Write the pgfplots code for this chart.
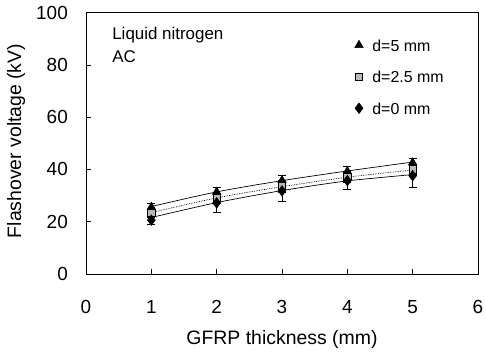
\documentclass[border=0pt]{standalone}
\usepackage{fontspec}
\setmainfont{Liberation Sans}
\usepackage{pgfplots}
\pgfplotsset{compat=1.18}
\newcommand\tickfont{\fontsize{19}{21}\selectfont}
\begin{document}
\begin{tikzpicture}
\begin{axis}[
  at={(0,0)}, anchor=south west,
  scale only axis, width=392bp, height=261.5bp,
  xmin=0, xmax=6, ymin=0, ymax=100,
  xtick={0,1,2,3,4,5,6}, ytick={0,20,40,60,80,100},
  xticklabels={0,1,2,3,4,5,6},
  yticklabels={0,20,40,60,80,100},
  tick align=inside, tick pos=left,
  major tick length=5bp,
  axis line style={line width=0.9pt},
  tick style={line width=0.6pt, black},
  every tick label/.append style={font=\tickfont},
  every y tick label/.append style={inner sep=0pt, anchor=east, xshift=-18bp},
  every x tick label/.append style={inner sep=0pt, anchor=north, yshift=-26bp},
  xlabel={GFRP thickness (mm)},
  ylabel={Flashover voltage (kV)},
  label style={font=\fontsize{19.5}{21}\selectfont},
  xlabel style={at={(axis description cs:0.5,-0.252)}, anchor=center},
  ylabel style={at={(axis description cs:-0.1786,0.5086)}, anchor=center},
  legend style={at={(axis cs:4.11,89.7)}, anchor=north west, draw=none, fill=none,
    font=\fontsize{16}{18}\selectfont, row sep=18.5bp, inner sep=0pt,
    nodes={inner sep=0pt},
    /tikz/every odd column/.append style={column sep=9bp}},
  legend cell align=left,
  legend image code/.code={\draw[#1] plot coordinates {(0cm,1bp)};},
]
% trend curves
\addplot[black, line width=0.7pt, smooth, forget plot] coordinates {(1,25.8)(2,31.4)(3,35.7)(4,39.4)(5,42.8)};
\addplot[black, line width=0.7pt, densely dotted, smooth, forget plot] coordinates {(1,23.5)(2,29.1)(3,33.4)(4,37.0)(5,39.8)};
\addplot[black, line width=0.7pt, smooth, forget plot] coordinates {(1,21.6)(2,27.3)(3,31.9)(4,35.6)(5,38.0)};
% points with error bars
\addplot[only marks, mark=triangle*, mark size=5pt, black,
  error bars/.cd, y dir=both, y explicit, error bar style={line width=0.7pt}, error mark options={rotate=90, mark size=4pt, line width=0.7pt}]
  coordinates {(1,25.6) +- (0,1.5) (2,31.4) +- (0,1.8) (3,35.8) +- (0,2.0) (4,39.3) +- (0,2.0) (5,42.6) +- (0,1.5)};
\addlegendentry{d=5 mm}
\addplot[only marks, mark=square*, mark size=3.6pt, mark options={fill=gray!55, draw=black, line width=0.8pt},
  error bars/.cd, y dir=both, y explicit, error bar style={line width=0.7pt}, error mark options={rotate=90, mark size=4pt, line width=0.7pt}]
  coordinates {(1,23.3) +- (0,1.5) (2,29.0) +- (0,2.0) (3,33.5) +- (0,2.2) (4,37.2) +- (0,2.0) (5,40.0) +- (0,2.0)};
\addlegendentry{d=2.5 mm}
\addplot[only marks, mark=diamond*, mark size=5.4pt, black,
  error bars/.cd, y dir=both, y explicit, error bar style={line width=0.7pt}, error mark options={rotate=90, mark size=4pt, line width=0.7pt}]
  coordinates {(1,20.6) +- (0,1.5) (2,27.2) +- (0,3.5) (3,31.8) +- (0,4.0) (4,35.7) +- (0,3.2) (5,37.6) +- (0,4.3)};
\addlegendentry{d=0 mm}
\node[anchor=west, inner sep=0pt, font=\fontsize{17}{19}\selectfont] at (axis cs:0.4,91.4) {Liquid nitrogen};
\node[anchor=west, inner sep=0pt, font=\fontsize{17}{19}\selectfont] at (axis cs:0.4,83) {AC};
\end{axis}
\path (-86bp,-75bp) rectangle (400bp,274bp);
\end{tikzpicture}
\end{document}
